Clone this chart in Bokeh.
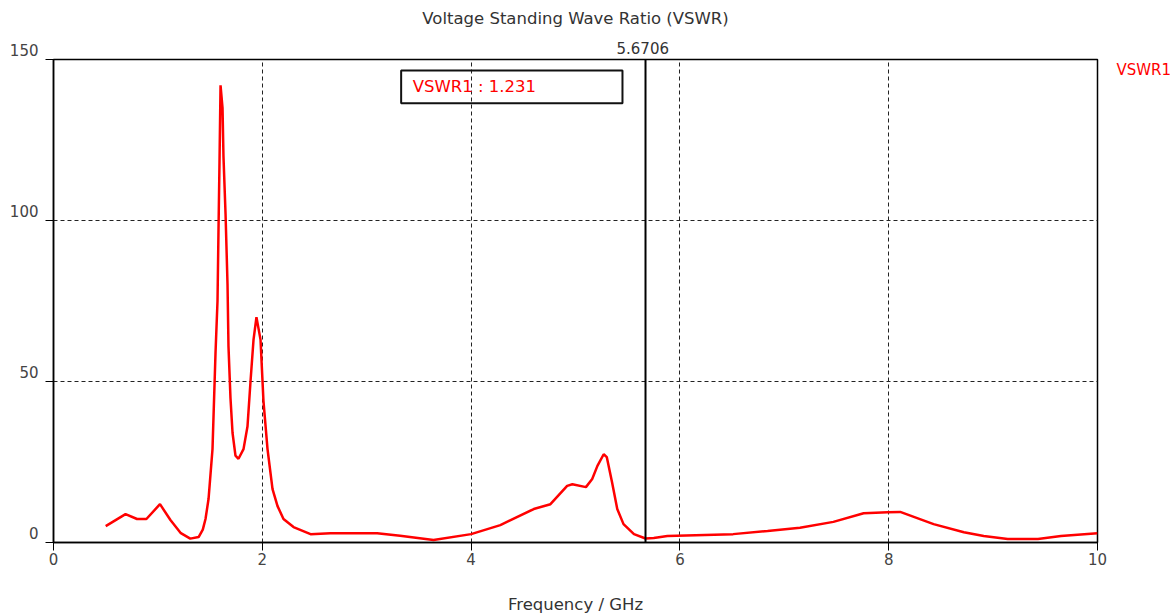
from bokeh.plotting import figure
from bokeh.models import (Range1d, Label, Span, BoxAnnotation, FixedTicker, Title,
                          LinearAxis)
from bokeh.embed import file_html
from bokeh.resources import INLINE

# ---- data ----
freq_ghz = [0.50, 0.69, 0.80, 0.89, 1.02, 1.12, 1.22, 1.31, 1.39, 1.43,
            1.456, 1.485, 1.523, 1.552, 1.571, 1.580, 1.590, 1.600, 1.619, 1.628,
            1.648, 1.667, 1.676, 1.695, 1.715, 1.743, 1.772, 1.820, 1.858, 1.887,
            1.916, 1.944, 1.983, 2.011, 2.050, 2.098, 2.146, 2.203, 2.299, 2.462,
            2.653, 3.10, 3.32, 3.64, 4.00, 4.28, 4.60, 4.76, 4.92, 4.97,
            5.10, 5.16, 5.21, 5.27, 5.30, 5.35, 5.40, 5.46, 5.56, 5.6706,
            5.75, 5.88, 6.51, 6.84, 7.15, 7.47, 7.76, 7.99, 8.11, 8.43,
            8.72, 8.91, 9.14, 9.43, 9.65, 10.00]
vswr1 = [5.1, 8.8, 7.3, 7.3, 11.9, 7.0, 2.9, 1.2, 1.7, 4.0,
         7.3, 13.5, 29.0, 59.0, 75.0, 96.0, 118.0, 142.0, 135.0, 120.0,
         102.0, 80.0, 61.0, 45.0, 34.0, 27.0, 26.0, 29.0, 36.0, 50.0,
         63.0, 70.0, 63.0, 44.0, 29.0, 16.6, 11.3, 7.3, 4.8, 2.6,
         2.9, 2.9, 2.1, 0.8, 2.6, 5.4, 10.4, 11.9, 17.6, 18.1,
         17.2, 19.7, 23.8, 27.4, 26.5, 18.7, 10.4, 5.7, 2.6, 1.231,
         1.4, 2.0, 2.6, 3.6, 4.6, 6.4, 9.1, 9.4, 9.5, 5.7,
         3.2, 2.0, 1.1, 1.1, 2.0, 2.9]
x_ticks = [0, 2, 4, 6, 8, 10]
y_ticks = [0, 50, 100, 150]
y_tick_labels = ["0", "50", "100", "150"]
marker_freq = 5.6706
marker_value = 1.231
series_name = "VSWR1"
title_text = "Voltage Standing Wave Ratio (VSWR)"
x_label_text = "Frequency / GHz"

FONT = "DejaVu Sans"
FS = "15px"       # numbers
FS_TXT = "16.5px" # words
TXT = "#333333"
TICK_TXT = "#444444"

p = figure(width=1176, height=616, output_backend="svg", toolbar_location=None,
           x_range=Range1d(0, 10), y_range=Range1d(0, 150),
           min_border_left=53, min_border_right=79, min_border_top=59,
           min_border_bottom=72, title=None)
p.background_fill_color = "white"
p.border_fill_color = "white"
p.outline_line_color = "black"
p.outline_line_width = 1.5

line_r = p.line(freq_ghz, vswr1, line_color="#ff0000", line_width=2.5)

# grid
for g in (p.xgrid, p.ygrid):
    g.grid_line_color = "#222222"
    g.grid_line_dash = "4 3"
    g.grid_line_width = 1
p.xaxis.ticker = FixedTicker(ticks=x_ticks)
p.yaxis.ticker = FixedTicker(ticks=y_ticks)
p.ygrid.ticker = FixedTicker(ticks=[50, 100])
p.xgrid.ticker = FixedTicker(ticks=[2, 4, 6, 8])

for ax in (p.xaxis, p.yaxis):
    ax.axis_line_color = "black"
    ax.axis_line_width = 1.5
    ax.major_tick_line_color = "black"
    ax.major_tick_out = 8
    ax.major_tick_in = 0
    ax.minor_tick_out = 0
    ax.minor_tick_in = 0
    ax.major_label_text_font = FONT
    ax.major_label_text_font_size = FS
    ax.major_label_text_color = TICK_TXT
p.xaxis.major_label_standoff = 2
p.xaxis.axis_label = x_label_text
p.xaxis.axis_label_text_font = FONT
p.xaxis.axis_label_text_font_size = FS_TXT
p.xaxis.axis_label_text_font_style = "normal"
p.xaxis.axis_label_text_color = TXT
p.xaxis.axis_label_text_line_height = 1.0
p.xaxis.axis_label_standoff = 27

# y tick labels sit slightly above their ticks, as in the original
p.yaxis.major_label_overrides = {t: lab + "\n" for t, lab in zip(y_ticks, y_tick_labels)}
p.yaxis.major_label_text_line_height = 0.95
p.yaxis.major_label_standoff = 7

# series name at the right of the chart, near the top
name_axis = LinearAxis(ticker=FixedTicker(ticks=[146.8]),
                       major_label_overrides={146.8: series_name},
                       axis_line_color=None, major_tick_out=0, major_tick_in=0,
                       minor_tick_out=0, minor_tick_in=0, major_label_standoff=19,
                       major_label_text_font=FONT, major_label_text_font_size=FS,
                       major_label_text_color="#ff0000")
p.add_layout(name_axis, "right")

# titles above: marker frequency (inner) and chart title (outer)
p.add_layout(Title(text=f"{marker_freq:.4f}", align="left", offset=563,
                   text_font=FONT, text_font_size=FS, text_font_style="normal",
                   text_color=TXT, standoff=11), "above")
p.add_layout(Title(text=title_text, align="center", text_font=FONT,
                   text_font_size=FS_TXT, text_font_style="normal", text_color=TXT,
                   standoff=13), "above")

# marker
p.add_layout(Span(location=marker_freq, dimension="height", line_color="black",
                  line_width=2))
p.add_layout(BoxAnnotation(left=3.33, right=5.45, top=146.6, bottom=136.4,
                           fill_alpha=0, line_color="#111111", line_alpha=1,
                           line_width=2))
p.add_layout(Label(x=3.44, y=141.6, text=f"{series_name} : {marker_value}",
                   text_align="left", text_baseline="middle", text_font=FONT,
                   text_font_size=FS_TXT, text_color="#ff0000"))

open("out.html", "w").write(file_html(p, INLINE))
